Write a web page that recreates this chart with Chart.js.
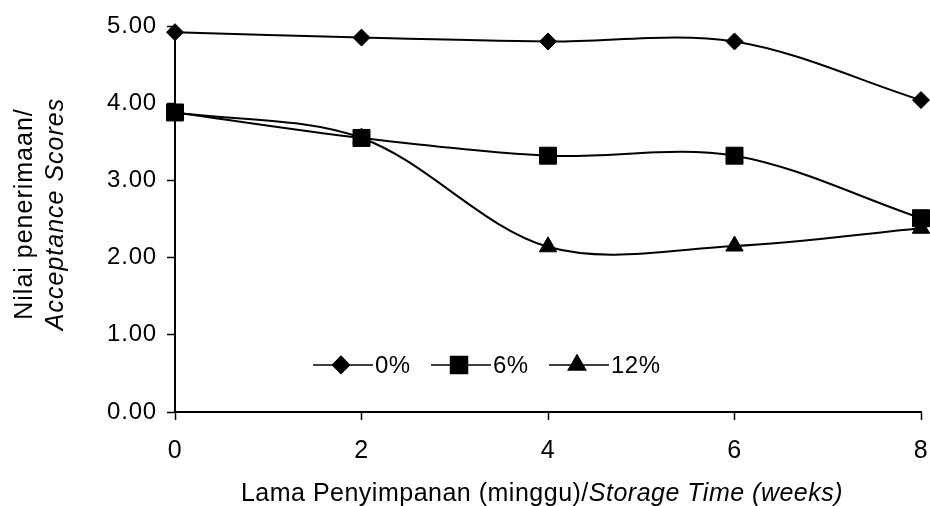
<!DOCTYPE html>
<html>
<head>
<meta charset="utf-8">
<script src="https://cdn.jsdelivr.net/npm/chart.js@4.4.0/dist/chart.umd.min.js"></script>
<style>
  html, body { margin: 0; padding: 0; background: #fff; }
  #wrap { width: 930px; height: 506px; }
</style>
</head>
<body>
<div id="wrap"><canvas id="chart"></canvas></div>
<script>
// storage time (weeks) and acceptance scores per concentration
const weeks = [0, 2, 4, 6, 8];
const score0 = [4.92, 4.85, 4.80, 4.80, 4.04];
const score6 = [3.88, 3.55, 3.32, 3.32, 2.51];
const score12 = [3.88, 3.55, 2.14, 2.15, 2.38];
const seriesLabels = ['0%', '6%', '12%'];
const markerStyles = ['rectRot', 'rect', 'triangle'];
const markerSizes = [8.5, 12, 10];

const FONT = "'Liberation Sans', Arial, sans-serif";

const toXY = (vals) => vals.map((v, i) => ({ x: weeks[i], y: v }));

// the y tick numbers in the original are set loosely
const letterSpacing = {
    id: 'letterSpacing',
    beforeUpdate: (chart) => { chart.ctx.letterSpacing = '0.8px'; },
    beforeDraw: (chart) => { chart.ctx.letterSpacing = '0.8px'; },
};

// axis titles with mixed upright / italic parts
const axisTitles = {
    id: 'axisTitles',
    afterDraw: (chart) => {
        const { ctx, chartArea } = chart;

        const drawParts = (parts, cx, cy, size) => {
            let total = 0;
            parts.forEach(p => {
                ctx.font = (p.italic ? 'italic ' : '') + size + 'px ' + FONT;
                p.w = ctx.measureText(p.text).width;
                total += p.w;
            });
            let x = cx - total / 2;
            parts.forEach(p => {
                ctx.font = (p.italic ? 'italic ' : '') + size + 'px ' + FONT;
                ctx.fillText(p.text, x, cy);
                x += p.w;
            });
        };

        ctx.save();
        ctx.fillStyle = '#000';
        ctx.textBaseline = 'alphabetic';
        ctx.textAlign = 'left';

        ctx.letterSpacing = '0.5px';
        const midX = (chartArea.left + chartArea.right) / 2 - 6;
        drawParts([
            { text: 'Lama Penyimpanan (minggu)/', italic: false },
            { text: 'Storage Time (weeks)', italic: true },
        ], midX, 501, 25);

        ctx.letterSpacing = '1px';
        ctx.translate(0, 214);
        ctx.rotate(-Math.PI / 2);
        drawParts([{ text: 'Nilai penerimaan/', italic: false }], 0, 32, 25);
        drawParts([{ text: 'Acceptance Scores', italic: true }], 0, 63, 25);
        ctx.restore();
    }
};

// legend drawn inside the plot: line through marker, then label
const innerLegend = {
    id: 'innerLegend',
    afterDraw: (chart) => {
        const { ctx } = chart;
        const cy = chart.scales.y.getPixelForValue(0.61);
        let x = chart.scales.x.getPixelForValue(1.48);

        ctx.save();
        ctx.font = '24px ' + FONT;
        ctx.letterSpacing = '0.5px';
        ctx.textBaseline = 'middle';
        ctx.textAlign = 'left';
        ctx.fillStyle = '#000';
        ctx.strokeStyle = '#000';
        chart.data.datasets.forEach((ds) => {
            ctx.lineWidth = 1.5;
            ctx.beginPath();
            ctx.moveTo(x, cy);
            ctx.lineTo(x + 60, cy);
            ctx.stroke();
            Chart.helpers.drawPoint(ctx, {
                pointStyle: ds.pointStyle,
                radius: ds.pointRadius,
                rotation: 0,
                borderWidth: 1
            }, x + 28, cy);
            ctx.fillStyle = '#000';
            ctx.fillText(ds.label, x + 62, cy + 1);
            x += 118;
        });
        ctx.restore();
    }
};

const datasets = [score0, score6, score12].map((vals, i) => ({
    label: seriesLabels[i],
    data: toXY(vals),
    borderColor: '#000',
    backgroundColor: '#000',
    borderWidth: 2,
    pointStyle: markerStyles[i],
    pointRadius: markerSizes[i],
    pointHoverRadius: markerSizes[i],
    pointBorderWidth: 1,
    pointBorderColor: '#000',
    pointBackgroundColor: '#000',
    tension: 0.33,
    fill: false,
    clip: false,
}));

new Chart(document.getElementById('chart'), {
    type: 'line',
    data: { datasets },
    options: {
        responsive: true,
        maintainAspectRatio: false,
        animation: false,
        layout: {
            autoPadding: false,
            padding: { top: 26, right: 9, left: 0, bottom: 0 },
        },
        plugins: {
            legend: { display: false },
            tooltip: { enabled: false },
        },
        scales: {
            x: {
                type: 'linear',
                min: 0,
                max: 8,
                afterFit: (s) => {
                    s.height = 94;
                    s.paddingLeft = 0;
                    s.paddingRight = 0;
                },
                afterBuildTicks: (s) => { s.ticks = weeks.map(v => ({ value: v })); },
                ticks: {
                    color: '#000',
                    font: { family: FONT, size: 25 },
                    padding: 16,
                    maxRotation: 0,
                },
                grid: {
                    drawOnChartArea: false,
                    tickLength: 8,
                    tickColor: '#000',
                    tickWidth: 1.5,
                },
                border: { color: '#000', width: 2 },
            },
            y: {
                min: 0,
                max: 5,
                afterFit: (s) => {
                    s.width = 175;
                    s.paddingTop = 0;
                    s.paddingBottom = 0;
                },
                ticks: {
                    stepSize: 1,
                    color: '#000',
                    font: { family: FONT, size: 24 },
                    padding: 10,
                    callback: (v) => v.toFixed(2),
                },
                grid: {
                    drawOnChartArea: false,
                    tickLength: 8,
                    tickColor: '#000',
                    tickWidth: 1.5,
                },
                border: { color: '#000', width: 2 },
            },
        },
    },
    plugins: [letterSpacing, axisTitles, innerLegend],
});
</script>
</body>
</html>
